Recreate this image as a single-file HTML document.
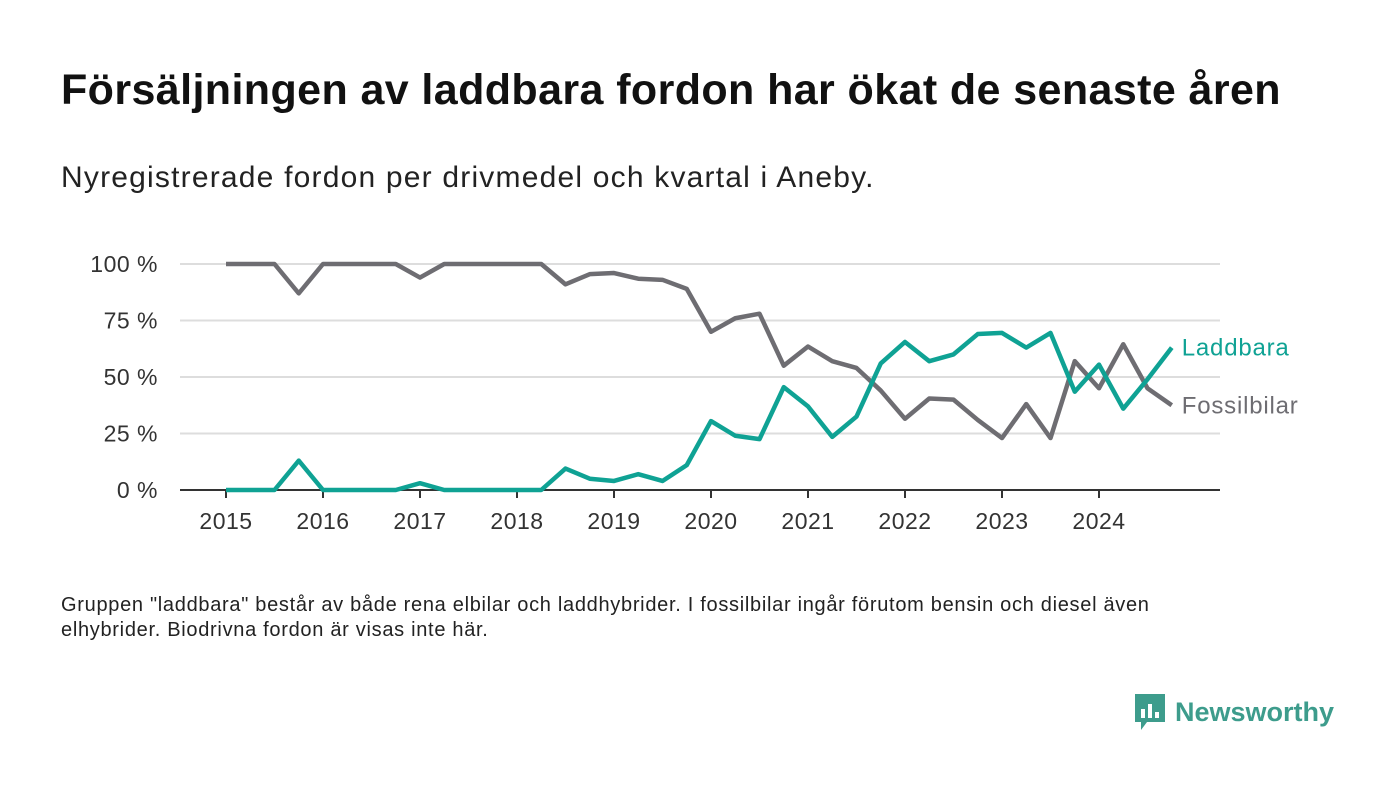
<!DOCTYPE html>
<html><head><meta charset="utf-8"><style>
body{margin:0;background:#fff;font-family:"Liberation Sans",sans-serif;}
#wrap{position:relative;width:1400px;height:793px;overflow:hidden;}
h1{position:absolute;left:61px;top:66px;margin:0;font-size:43px;letter-spacing:0.4px;font-weight:bold;color:#111;white-space:nowrap;}
.sub{position:absolute;left:61px;top:161px;font-size:30px;letter-spacing:1.2px;color:#222;white-space:nowrap;}
.note{position:absolute;left:61px;top:593px;font-size:20px;letter-spacing:0.7px;line-height:25px;color:#222;width:1150px;}
.logo{position:absolute;left:1133px;top:692px;display:flex;align-items:center;gap:8px;color:#3d9c8c;font-weight:bold;font-size:27px;}
</style></head><body>
<div id="wrap">
<h1>Försäljningen av laddbara fordon har ökat de senaste åren</h1>
<div class="sub">Nyregistrerade fordon per drivmedel och kvartal i Aneby.</div>
<svg id="chart" width="1400" height="793" style="position:absolute;left:0;top:0"></svg>
<div class="note">Gruppen "laddbara" består av både rena elbilar och laddhybrider. I fossilbilar ingår förutom bensin och diesel även elhybrider. Biodrivna fordon är visas inte här.</div>
<div class="logo">
<svg width="34" height="40" viewBox="0 0 34 40"><path d="M2 2h30v28H14l-6 8v-8H2z" fill="#3d9c8c"/><rect x="8" y="17" width="4" height="9" fill="#fff"/><rect x="15" y="12" width="4" height="14" fill="#fff"/><rect x="22" y="20" width="4" height="6" fill="#fff"/></svg>
<span>Newsworthy</span></div>
</div>
<script>
const years=[2015,2016,2017,2018,2019,2020,2021,2022,2023,2024];
const yTicks=[0,25,50,75,100];
const fossil=[100,100,100,87,100,100,100,100,94,100,100,100,100,100,91,95.5,96,93.5,93,89,70,76,78,55,63.5,57,54,44,31.5,40.5,40,31,23,38,23,57,45,64.5,45,37.5];
const laddbara=[0,0,0,13,0,0,0,0,3,0,0,0,0,0,9.5,5,4,7,4,11,30.5,24,22.5,45.5,37,23.5,32.5,56,65.5,57,60,69,69.5,63,69.5,43.5,55.5,36,49,63];
const svg=document.getElementById('chart');const NS='http://www.w3.org/2000/svg';
const x=t=>226+t*97/4;const y=v=>490-v*2.26;
function mk(tag,a,txt){const e=document.createElementNS(NS,tag);for(const k in a)e.setAttribute(k,a[k]);if(txt!=null)e.textContent=txt;svg.appendChild(e);return e;}
yTicks.forEach(v=>{
 if(v>0){const g=mk('line',{x1:180,x2:1220,y1:y(v),y2:y(v),stroke:'#ddd','stroke-width':2});
 
 }
 const t=mk('text',{x:158,y:y(v)+8,'text-anchor':'end','font-size':23,'letter-spacing':0.5,fill:'#333','font-family':'Liberation Sans'},v+' %');
 
 
});
const ax=mk('line',{x1:180,x2:1220,y1:490,y2:490,stroke:'#333','stroke-width':2});


years.forEach((yr,i)=>{const xx=x(i*4);
 const tk=mk('line',{x1:xx,x2:xx,y1:490,y2:498,stroke:'#333','stroke-width':2});
 
 
 const t=mk('text',{x:xx,y:529,'text-anchor':'middle','font-size':23,'letter-spacing':0.5,fill:'#333','font-family':'Liberation Sans'},yr);
 
 
});
function line(data,col,name,label){
 const p=mk('polyline',{points:data.map((v,i)=>x(i)+','+y(v)).join(' '),fill:'none',stroke:col,'stroke-width':4.5,'stroke-linejoin':'round'});
 
 
 const l=data.length-1;
 const t=mk('text',{x:x(l)+10,y:y(data[l])+8,'font-size':24,'letter-spacing':0.8,fill:col,'font-family':'Liberation Sans'},label);
 
 
}
line(fossil,'#6e6d72','fossilbilar','Fossilbilar');
line(laddbara,'#0fa294','laddbara','Laddbara');
</script>
</body></html>
